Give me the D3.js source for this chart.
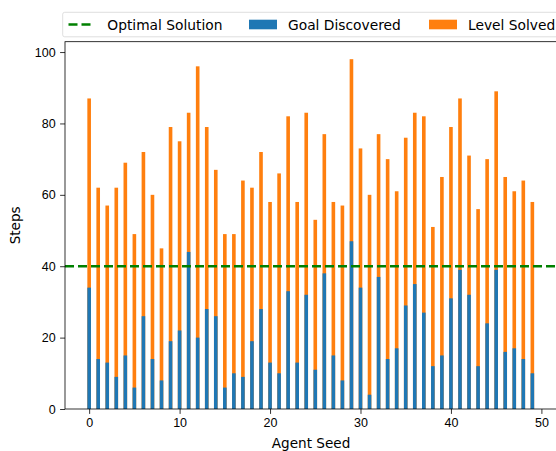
<!DOCTYPE html>
<html lang="en">
<head>
    <meta charset="UTF-8">
    <title>Agent Seed Steps</title>
    <style>
        body { margin: 0; background: #fff; }
        svg { display: block; font-family: "DejaVu Sans", sans-serif; }
        .tick text { font-size: 12.5px; fill: #000; }
        .tick line { stroke: #000; stroke-width: 0.8; }
        .domain { display: none; }
    </style>
    <script src="https://d3js.org/d3.v7.min.js"></script>
</head>
<body>
    <svg width="556" height="451"></svg>
    <script>
        // steps per agent seed
        const seeds = d3.range(50);
        const goalDiscovered = [34, 14, 13, 9, 15, 6, 26, 14, 8, 19,
            22, 44, 20, 28, 26, 6, 10, 9, 19, 28,
            13, 10, 33, 13, 32, 11, 38, 15, 8, 47,
            34, 4, 37, 14, 17, 29, 35, 27, 12, 15,
            31, 39, 32, 12, 24, 39, 16, 17, 14, 10];
        const levelSolved = [87, 62, 57, 62, 69, 49, 72, 60, 45, 79,
            75, 83, 96, 79, 67, 49, 49, 64, 62, 72,
            58, 66, 82, 58, 83, 53, 77, 58, 57, 98,
            73, 60, 77, 70, 61, 76, 83, 82, 51, 65,
            79, 87, 71, 56, 70, 89, 65, 61, 64, 58];
        const optimal = 40;
        const xTicks = [0, 10, 20, 30, 40, 50];
        const yTicks = [0, 20, 40, 60, 80, 100];

        const plotLeft = 65, plotRight = 556.5, plotTop = 41.7, plotBottom = 409;
        const barWidth = 0.4;

        const svg = d3.select('svg');

        const x = d3.scaleLinear().domain([-2.67, 51.67]).range([plotLeft, plotRight]);
        const y = d3.scaleLinear().domain([0, 102.9]).range([plotBottom, plotTop]);

        // bars: total first, goal on top of it
        svg.append('g').selectAll('rect')
            .data(seeds)
            .join('rect')
            .attr('x', d => x(d - barWidth / 2))
            .attr('width', x(barWidth) - x(0))
            .attr('y', d => y(levelSolved[d]))
            .attr('height', d => y(0) - y(levelSolved[d]))
            .attr('fill', '#ff7f0e');

        svg.append('g').selectAll('rect')
            .data(seeds)
            .join('rect')
            .attr('x', d => x(d - barWidth / 2))
            .attr('width', x(barWidth) - x(0))
            .attr('y', d => y(goalDiscovered[d]))
            .attr('height', d => y(0) - y(goalDiscovered[d]))
            .attr('fill', '#1f77b4');

        // optimal line
        svg.append('line')
            .attr('x1', plotLeft).attr('x2', plotRight)
            .attr('y1', y(optimal)).attr('y2', y(optimal))
            .attr('stroke', 'green')
            .attr('stroke-width', 2.5)
            .attr('stroke-dasharray', '9 4');

        // axes
        svg.append('g')
            .attr('transform', `translate(0,${plotBottom})`)
            .call(d3.axisBottom(x).tickValues(xTicks).tickSize(4.9).tickPadding(4.5));

        svg.append('g')
            .attr('transform', `translate(${plotLeft},0)`)
            .call(d3.axisLeft(y).tickValues(yTicks).tickSize(4.9).tickPadding(4.5));

        svg.append('rect')
            .attr('x', plotLeft).attr('y', plotTop)
            .attr('width', plotRight - plotLeft).attr('height', plotBottom - plotTop)
            .attr('fill', 'none')
            .attr('stroke', '#000')
            .attr('stroke-width', 0.8);

        svg.append('text')
            .attr('x', 311)
            .attr('y', 448)
            .attr('text-anchor', 'middle')
            .attr('font-size', 13.6)
            .text('Agent Seed');

        svg.append('text')
            .attr('transform', `translate(20,${(plotTop + plotBottom) / 2}) rotate(-90)`)
            .attr('text-anchor', 'middle')
            .attr('font-size', 13.6)
            .text('Steps');

        // legend
        const legend = svg.append('g');
        legend.append('rect')
            .attr('x', 62.7).attr('y', 12.3)
            .attr('width', 520).attr('height', 24.5)
            .attr('rx', 2)
            .attr('fill', '#fff')
            .attr('stroke', '#d6d6d6')
            .attr('stroke-width', 0.8);

        const ly = 24.5;
        legend.append('line')
            .attr('x1', 68.5).attr('x2', 94)
            .attr('y1', ly).attr('y2', ly)
            .attr('stroke', 'green')
            .attr('stroke-width', 2.5)
            .attr('stroke-dasharray', '9 4');
        legend.append('text').attr('x', 107.3).attr('y', ly + 5)
            .attr('font-size', 13.8).text('Optimal Solution');

        legend.append('rect').attr('x', 249).attr('y', ly - 4.8)
            .attr('width', 28).attr('height', 9.6).attr('fill', '#1f77b4');
        legend.append('text').attr('x', 288).attr('y', ly + 5)
            .attr('font-size', 13.8).text('Goal Discovered');

        legend.append('rect').attr('x', 429).attr('y', ly - 4.8)
            .attr('width', 28).attr('height', 9.6).attr('fill', '#ff7f0e');
        legend.append('text').attr('x', 468).attr('y', ly + 5)
            .attr('font-size', 13.8).text('Level Solved');
    </script>
</body>
</html>
